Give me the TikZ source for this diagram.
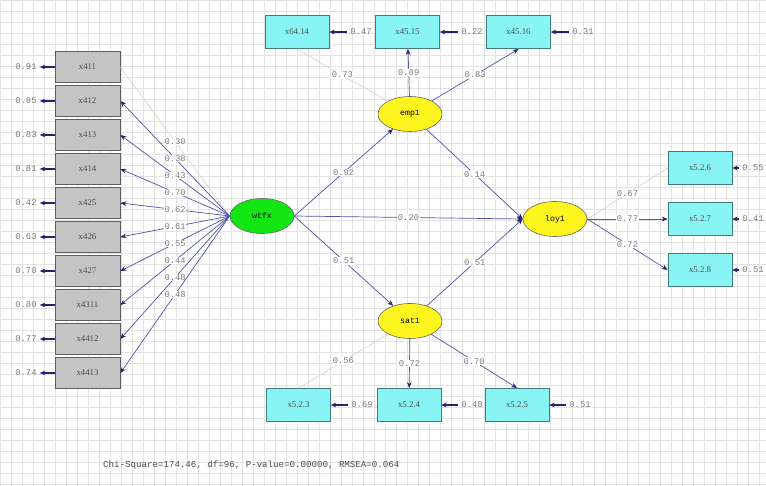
\documentclass[tikz,border=0pt]{standalone}
\usepackage{fontspec}
\setmainfont{Liberation Serif}
\setmonofont{Liberation Mono}
\usetikzlibrary{shapes,arrows.meta,positioning,calc}

\definecolor{gridcol}{HTML}{E3E3E3}
\definecolor{pathcol}{HTML}{5454A8}
\definecolor{tipcol}{HTML}{23236E}
\definecolor{refcol}{HTML}{E6CFCF}
\definecolor{numcol}{HTML}{7C7C7C}
\definecolor{greybox}{HTML}{C4C4C4}
\definecolor{greyedge}{HTML}{5E5E5E}
\definecolor{cyanbox}{HTML}{88F4F4}
\definecolor{cyanedge}{HTML}{3E7E7E}
\definecolor{latgreen}{HTML}{14E614}
\definecolor{latyellow}{HTML}{FFF51E}

\tikzset{
  xbox/.style={draw=greyedge, fill=greybox, line width=0.7pt, minimum width=1.95cm, minimum height=0.93cm, inner sep=0pt, font=\fontsize{7.5}{8}\selectfont, text=black!70},
  ybox/.style={draw=cyanedge, fill=cyanbox, line width=0.6pt, minimum width=1.92cm, minimum height=1.0cm, inner sep=0pt, font=\fontsize{7.5}{8}\selectfont, text=black!70},
  latent/.style={ellipse, draw=black!60, line width=0.5pt, minimum width=1.92cm, minimum height=1.05cm, inner sep=0pt, font=\ttfamily\fontsize{7}{8}\selectfont},
  num/.style={font=\ttfamily\fontsize{7.5}{8}\selectfont, text=numcol, inner sep=0.6pt},
  loadlbl/.style={num, fill=white, midway},
  pth/.style={draw=pathcol, line width=0.6pt, -{Stealth[length=5pt,width=4pt,color=tipcol]}},
  refpth/.style={draw=refcol, line width=0.6pt},
  errarr/.style={draw=tipcol, line width=0.9pt, {Stealth[length=4.5pt,width=4pt]}-}
}

\begin{document}
\begin{tikzpicture}[x=0.03cm, y=-0.03cm]
        \useasboundingbox (0,0) rectangle (766,486);
        % Background grid
        \fill[white] (0,0) rectangle (766,486);
        \draw[gridcol, line width=0.35pt, step=0.33cm] (0,0) grid (766,486);

        % Latent variables
        \node[latent, fill=latgreen] (wtfx) at (262,216) {wtfx};
        \node[latent, fill=latyellow] (emp1) at (410,114) {emp1};
        \node[latent, fill=latyellow] (sat1) at (410,321) {sat1};
        \node[latent, fill=latyellow] (loy1) at (555,219) {loy1};

        % Observed variables on the left
        \node[xbox] (x411) at (87.5,67) {x411};
        \node[xbox] (x412) at (87.5,101) {x412};
        \node[xbox] (x413) at (87.5,135) {x413};
        \node[xbox] (x414) at (87.5,169) {x414};
        \node[xbox] (x425) at (87.5,203) {x425};
        \node[xbox] (x426) at (87.5,237) {x426};
        \node[xbox] (x427) at (87.5,271) {x427};
        \node[xbox] (x4311) at (87.5,305) {x4311};
        \node[xbox] (x4412) at (87.5,339) {x4412};
        \node[xbox] (x4413) at (87.5,373) {x4413};

        % Observed variables of emp1, loy1 and sat1
        \node[ybox] (x6414) at (297,32) {x64.14};
        \node[ybox] (x4515) at (407.5,32) {x45.15};
        \node[ybox] (x4516) at (518.5,32) {x45.16};
        \node[ybox] (x526) at (700,168) {x5.2.6};
        \node[ybox] (x527) at (700,219) {x5.2.7};
        \node[ybox] (x528) at (700,270) {x5.2.8};
        \node[ybox] (x523) at (298.5,405) {x5.2.3};
        \node[ybox] (x524) at (409,405) {x5.2.4};
        \node[ybox] (x525) at (517,405) {x5.2.5};

        % Error variances
        \node[num] (e411) at (26,67) {0.91};
        \node[num] (e412) at (26,101) {0.85};
        \node[num] (e413) at (26,135) {0.83};
        \node[num] (e414) at (26,169) {0.81};
        \node[num] (e425) at (26,203) {0.42};
        \node[num] (e426) at (26,237) {0.63};
        \node[num] (e427) at (26,271) {0.70};
        \node[num] (e4311) at (26,305) {0.80};
        \node[num] (e4412) at (26,339) {0.77};
        \node[num] (e4413) at (26,373) {0.74};
        \node[num] (e6414) at (361,32) {0.47};
        \node[num] (e4515) at (472,32) {0.22};
        \node[num] (e4516) at (583,32) {0.31};
        \node[num] (e526) at (753,168) {0.55};
        \node[num] (e527) at (753,219) {0.41};
        \node[num] (e528) at (753,270) {0.51};
        \node[num] (e523) at (362,405) {0.69};
        \node[num] (e524) at (472,405) {0.48};
        \node[num] (e525) at (580,405) {0.51};

        \foreach \v in {411,412,413,414,425,426,427,4311,4412,4413}
          \draw[errarr, shorten <=2pt] (e\v) -- (x\v);
        \foreach \v in {6414,4515,4516,526,527,528,523,524,525}
          \draw[errarr, shorten >=2pt] (x\v) -- (e\v);

        % Loadings of wtfx
        \draw[refpth] (wtfx.west) -- (x411.east) node[loadlbl] {0.30};
        \draw[pth] (wtfx.west) -- (x412.east) node[loadlbl] {0.38};
        \draw[pth] (wtfx.west) -- (x413.east) node[loadlbl] {0.43};
        \draw[pth] (wtfx.west) -- (x414.east) node[loadlbl] {0.70};
        \draw[pth] (wtfx.west) -- (x425.east) node[loadlbl] {0.62};
        \draw[pth] (wtfx.west) -- (x426.east) node[loadlbl] {0.61};
        \draw[pth] (wtfx.west) -- (x427.east) node[loadlbl] {0.55};
        \draw[pth] (wtfx.west) -- (x4311.east) node[loadlbl] {0.44};
        \draw[pth] (wtfx.west) -- (x4412.east) node[loadlbl] {0.48};
        \draw[pth] (wtfx.west) -- (x4413.east) node[loadlbl] {0.48};

        % Loadings of emp1, loy1, sat1
        \draw[refpth] (emp1) -- (x6414.south) node[loadlbl] {0.73};
        \draw[pth] (emp1) -- (x4515) node[loadlbl] {0.89};
        \draw[pth] (emp1) -- (x4516.south) node[loadlbl] {0.83};
        \draw[refpth] (loy1.east) -- (x526.west) node[loadlbl] {0.67};
        \draw[pth] (loy1.east) -- (x527.west) node[loadlbl] {0.77};
        \draw[pth] (loy1.east) -- (x528.west) node[loadlbl] {0.72};
        \draw[refpth] (sat1) -- (x523.north) node[loadlbl] {0.56};
        \draw[pth] (sat1) -- (x524) node[loadlbl] {0.72};
        \draw[pth] (sat1) -- (x525.north) node[loadlbl] {0.70};

        % Structural paths
        \draw[pth] (wtfx.east) -- (emp1) node[loadlbl] {0.92};
        \draw[pth] (wtfx.east) -- (loy1.west) node[loadlbl] {0.20};
        \draw[pth] (wtfx.east) -- (sat1) node[loadlbl] {0.51};
        \draw[pth] (emp1) -- (loy1.west) node[loadlbl] {0.14};
        \draw[pth] (sat1) -- (loy1.west) node[loadlbl] {0.51};

        % Fit statistics
        \node[anchor=west, font=\ttfamily\fontsize{7.8}{9}\selectfont, text=black!70, inner sep=0pt] (fit) at (103,465) {Chi-Square=174.46, df=96, P-value=0.00000, RMSEA=0.064};
\end{tikzpicture}
\end{document}
